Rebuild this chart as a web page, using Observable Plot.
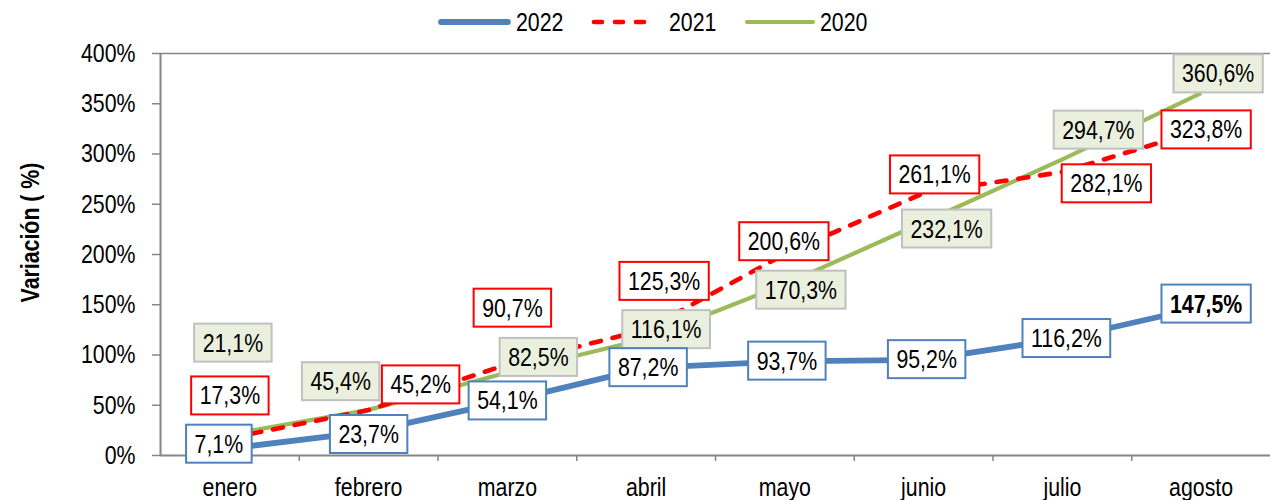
<!DOCTYPE html>
<html>
<head>
<meta charset="utf-8">
<script src="https://cdn.jsdelivr.net/npm/d3@7"></script>
<script src="https://cdn.jsdelivr.net/npm/@observablehq/plot@0.6"></script>
<style>
  html, body { margin: 0; padding: 0; background: #fff; }
  body { width: 1270px; height: 500px; overflow: hidden; font-family: "Liberation Sans", Arial, sans-serif; }
  #legend { display: block; }
</style>
</head>
<body>
<svg id="legend" width="1270" height="45"></svg>
<div id="chart"></div>
<script>
// ---- data ----
const months = ["enero", "febrero", "marzo", "abril", "mayo", "junio", "julio", "agosto"];
const v2022 = [7.1, 23.7, 54.1, 87.2, 93.7, 95.2, 116.2, 147.5];
const v2021 = [17.3, 45.2, 90.7, 125.3, 200.6, 261.1, 282.1, 323.8];
const v2020 = [21.1, 45.4, 82.5, 116.1, 170.3, 232.1, 294.7, 360.6];
const yTicks = [0, 50, 100, 150, 200, 250, 300, 350, 400];
const seriesNames = ["2022", "2021", "2020"];

// ---- label layout (pixel offsets from each point) ----
const off2022 = [[-11,-4],[0,3],[0,0],[2,0],[2,0],[3,0],[4,0],[5,-3]];
const off2021 = [[0,-42],[52,-25],[5,-56],[18,-48],[-1,-12],[11,-18],[44,12],[5,0]];
const off2020 = [[3,-91],[-28,-28],[31,-15],[20,-9],[16,6],[23,7],[36,-29],[17,-19]];

const C = {
  "2022": {stroke: "#4f81bd", width: 5.8, dash: null, boxStroke: "#4f81bd", boxFill: "#ffffff"},
  "2021": {stroke: "#ff0000", width: 4.6, dash: "10,12", boxStroke: "#ff0000", boxFill: "#ffffff"},
  "2020": {stroke: "#9bbb59", width: 4.2, dash: null, boxStroke: "#c0c0c0", boxFill: "#ebf0de"}
};
const FONT = '"Liberation Sans", Arial, sans-serif';
const NARROW = 0.82; // horizontal compression to mimic a narrow face
const fmt = v => v.toFixed(1).replace(".", ",") + "%";

const rows = s => (s === "2022" ? v2022 : s === "2021" ? v2021 : v2020).map((v, i) => ({i, month: months[i], v, s}));

// ---- legend ----
(function legend() {
  const svg = d3.select("#legend");
  const items = [
    {s: "2022", x1: 441, x2: 508, tx: 516},
    {s: "2021", x1: 594, x2: 652, tx: 669},
    {s: "2020", x1: 747, x2: 813, tx: 820}
  ];
  for (const it of items) {
    const c = C[it.s];
    svg.append("line").attr("x1", it.x1).attr("x2", it.x2).attr("y1", 22).attr("y2", 22)
      .attr("stroke", c.stroke).attr("stroke-width", c.width)
      .attr("stroke-linecap", "round")
      .attr("stroke-dasharray", it.s === "2021" ? "8,13" : null);
    svg.append("text").attr("x", it.tx).attr("y", 22).attr("dy", "0.35em")
      .attr("font-family", FONT).attr("font-size", 26).attr("fill", "#000").text(it.s);
  }
})();

// ---- marks ----
const lineMark = s => Plot.line(rows(s), {
  x: "i", y: "v", stroke: C[s].stroke, strokeWidth: C[s].width,
  strokeDasharray: C[s].dash, strokeLinecap: C[s].dash ? "round" : "butt", strokeLinejoin: "round"
});

const labelMarks = (s, offs) => rows(s).map((d, k) => Plot.text([d], {
  x: "i", y: "v", text: d => fmt(d.v), dx: offs[k][0], dy: offs[k][1],
  fontSize: 26, fill: "#000", fontWeight: (s === "2022" && k === 7) ? "bold" : "normal",
  ariaLabel: () => "lbl-" + s
}));

const boundaries = months.slice(1).map((m, i) => i + 0.5);

const chart = Plot.plot({
  width: 1270,
  height: 455,
  marginLeft: 160,
  marginRight: 0,
  marginTop: 8,
  marginBottom: 45,
  style: {fontFamily: FONT, fontSize: "26px", background: "#fff", overflow: "visible"},
  x: {type: "linear", domain: [-0.5, 7.5]},
  y: {domain: [0, 400]},
  marks: [
    Plot.ruleY([400], {stroke: "#868686", strokeWidth: 1.5}),
    Plot.ruleY([0], {stroke: "#868686", strokeWidth: 2}),
    Plot.ruleX([-0.5], {stroke: "#868686", strokeWidth: 2}),
    Plot.axisY({ticks: yTicks, tickFormat: d => d + "%", tickSize: 8, tickPadding: 17,
      stroke: "#868686", strokeWidth: 1.5, fill: "#000", fontSize: 26, label: null}),
    Plot.axisX({ticks: boundaries, tickFormat: () => "", tickSize: 6, stroke: "#868686", strokeWidth: 1.5, label: null}),
    Plot.axisX({ticks: d3.range(months.length), tickFormat: i => months[i], tickSize: 0, tickPadding: 22,
      fill: "#000", fontSize: 26, label: null}),
    Plot.text(["Variación ( %)"], {frameAnchor: "left", textAnchor: "middle", dx: -130, dy: -22, rotate: -90,
      fontWeight: "bold", fontSize: 26, fill: "#000"}),
    lineMark("2020"),
    lineMark("2021"),
    lineMark("2022"),
    ...labelMarks("2020", off2020),
    ...labelMarks("2021", off2021),
    ...labelMarks("2022", off2022)
  ]
});

document.getElementById("chart").appendChild(chart);

// ---- narrow all texts (mimic Arial Narrow) ----
document.querySelectorAll("svg text").forEach(t => {
  const w = t.getComputedTextLength();
  if (w > 0) {
    t.setAttribute("textLength", (w * NARROW).toFixed(2));
    t.setAttribute("lengthAdjust", "spacingAndGlyphs");
  }
});

// ---- boxes behind data labels ----
for (const s of ["2020", "2021", "2022"]) {
  const found = chart.querySelectorAll(`[aria-label="lbl-${s}"]`);
  const texts = [];
  found.forEach(el => {
    if (el.tagName.toLowerCase() === "text") texts.push(el);
    else el.querySelectorAll("text").forEach(t => texts.push(t));
  });
  texts.forEach(t => {
    const b = t.getBBox();
    const padX = 8.5, padY = 4;
    const r = document.createElementNS("http://www.w3.org/2000/svg", "rect");
    r.setAttribute("x", b.x - padX);
    r.setAttribute("y", b.y - padY);
    r.setAttribute("width", b.width + 2 * padX);
    r.setAttribute("height", b.height + 2 * padY);
    r.setAttribute("fill", C[s].boxFill);
    r.setAttribute("stroke", C[s].boxStroke);
    r.setAttribute("stroke-width", 2);
    const tr = t.getAttribute("transform");
    if (tr) r.setAttribute("transform", tr);
    t.parentNode.insertBefore(r, t);
  });
}
</script>
</body>
</html>
